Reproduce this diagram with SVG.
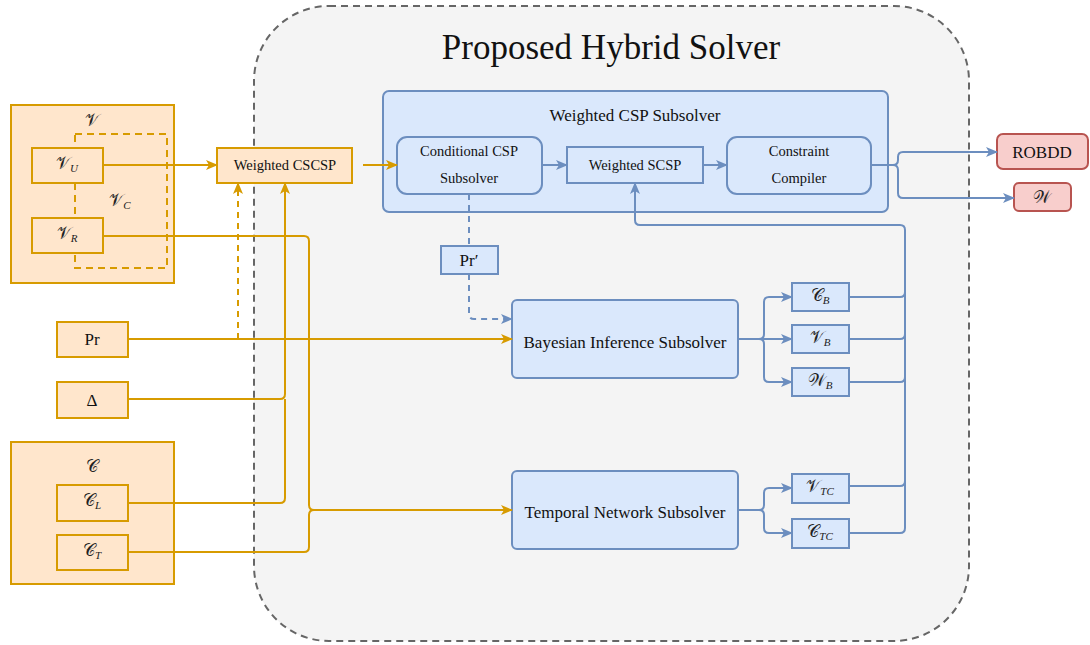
<svg xmlns="http://www.w3.org/2000/svg" width="1090" height="645" viewBox="0 0 1090 645">
  <defs>
    <style>
      .orange { fill: #ffe6cc; stroke: #d79b00; stroke-width: 2; }
      .blue { fill: #dae8fc; stroke: #6c8ebf; stroke-width: 2; }
      .red { fill: #f8cecc; stroke: #b85450; stroke-width: 2; }
      .frame { fill: #f4f4f4; stroke: #666666; stroke-width: 2; stroke-dasharray: 7 5; }
      .dashbox { fill: none; stroke: #d79b00; stroke-width: 2; stroke-dasharray: 7 5; }
      .lo { fill: none; stroke: #d79b00; stroke-width: 2; }
      .lb { fill: none; stroke: #6c8ebf; stroke-width: 2; }
      .dash { stroke-dasharray: 6 5; }
      .ao { marker-end: url(#arrowO); }
      .ab { marker-end: url(#arrowB); }
      text { font-family: "Liberation Serif", "DejaVu Serif", serif; fill: #111111; text-anchor: middle; dominant-baseline: central; }
      .t14 { font-size: 14.5px; }
      .t17 { font-size: 17px; }
      .math { font-family: "DejaVu Sans", "DejaVu Serif", "Noto Sans", serif; font-size: 17px; fill: #222222; }
      .sub { font-family: "Liberation Serif", serif; font-style: italic; font-size: 11px; }
    </style>
    <marker id="arrowO" viewBox="0 0 12 10" markerUnits="userSpaceOnUse" markerWidth="12" markerHeight="10" refX="11" refY="5" orient="auto">
      <path d="M0,0 L12,5 L0,10 L3,5 z" fill="#d79b00"/>
    </marker>
    <marker id="arrowB" viewBox="0 0 12 10" markerUnits="userSpaceOnUse" markerWidth="12" markerHeight="10" refX="11" refY="5" orient="auto">
      <path d="M0,0 L12,5 L0,10 L3,5 z" fill="#6c8ebf"/>
    </marker>
  </defs>

  <!-- solver frame -->
  <g id="hybrid-solver">
    <rect class="frame" x="254" y="6" width="715" height="635" rx="75"/>
    <text x="611" y="47" style="font-size:35px">Proposed Hybrid Solver</text>
  </g>

  <!-- variables group -->
  <g id="var-set">
    <rect class="orange" x="11" y="105" width="163" height="178"/>
    <rect class="dashbox" x="75" y="134" width="92" height="134"/>
    <text class="math" x="92" y="120">𝒱</text>
    <text class="math" x="120" y="200">𝒱<tspan class="sub" dy="5">C</tspan></text>
  </g>
  <g id="var-u">
    <rect class="orange" x="32" y="148" width="71" height="35"/>
    <text class="math" x="67" y="163">𝒱<tspan class="sub" dy="5">U</tspan></text>
  </g>
  <g id="var-r">
    <rect class="orange" x="32" y="218" width="71" height="35"/>
    <text class="math" x="67" y="233">𝒱<tspan class="sub" dy="5">R</tspan></text>
  </g>

  <g id="pr">
    <rect class="orange" x="57" y="322" width="71" height="35"/>
    <text class="t17" x="92" y="339">Pr</text>
  </g>
  <g id="delta">
    <rect class="orange" x="57" y="382" width="71" height="36"/>
    <text class="t17" x="92" y="400">Δ</text>
  </g>

  <!-- constraints group -->
  <g id="con-set">
    <rect class="orange" x="11" y="442" width="163" height="142"/>
    <text class="math" x="92" y="466">𝒞</text>
  </g>
  <g id="con-l">
    <rect class="orange" x="57" y="485" width="71" height="36"/>
    <text class="math" x="92" y="500">𝒞<tspan class="sub" dy="5">L</tspan></text>
  </g>
  <g id="con-t">
    <rect class="orange" x="57" y="535" width="71" height="35"/>
    <text class="math" x="92" y="550">𝒞<tspan class="sub" dy="5">T</tspan></text>
  </g>

  <g id="weighted-cscsp">
    <rect class="orange" x="217" y="148" width="135" height="35"/>
    <text class="t14" x="285" y="165">Weighted CSCSP</text>
  </g>

  <!-- weighted CSP subsolver -->
  <g id="wcsp-subsolver">
    <rect class="blue" x="383" y="91" width="505" height="121" rx="6"/>
    <text class="t17" x="635" y="115">Weighted CSP Subsolver</text>
  </g>
  <g id="conditional-csp">
    <rect class="blue" x="397" y="137" width="145" height="57" rx="10"/>
    <text class="t14" x="469" y="151">Conditional CSP</text>
    <text class="t14" x="469" y="178">Subsolver</text>
  </g>
  <g id="weighted-scsp">
    <rect class="blue" x="567" y="147" width="136" height="36"/>
    <text class="t14" x="635" y="165">Weighted SCSP</text>
  </g>
  <g id="constraint-compiler">
    <rect class="blue" x="727" y="137" width="144" height="57" rx="10"/>
    <text class="t14" x="799" y="151">Constraint</text>
    <text class="t14" x="799" y="178">Compiler</text>
  </g>

  <g id="robdd">
    <rect class="red" x="997" y="134" width="91" height="35" rx="6"/>
    <text class="t17" x="1042" y="152">ROBDD</text>
  </g>
  <g id="w-out">
    <rect class="red" x="1014" y="183" width="57" height="28" rx="5"/>
    <text class="math" x="1042" y="197">𝒲</text>
  </g>

  <g id="pr-prime">
    <rect class="blue" x="441" y="246" width="57" height="28"/>
    <text class="t17" x="469" y="260">Pr′</text>
  </g>

  <g id="bayesian">
    <rect class="blue" x="512" y="300" width="226" height="78" rx="5"/>
    <text class="t17" x="625" y="342">Bayesian Inference Subsolver</text>
  </g>
  <g id="c-b">
    <rect class="blue" x="792" y="283" width="57" height="28"/>
    <text class="math" x="820" y="295">𝒞<tspan class="sub" dy="5">B</tspan></text>
  </g>
  <g id="v-b">
    <rect class="blue" x="792" y="325" width="57" height="28"/>
    <text class="math" x="820" y="337">𝒱<tspan class="sub" dy="5">B</tspan></text>
  </g>
  <g id="w-b">
    <rect class="blue" x="792" y="368" width="57" height="28"/>
    <text class="math" x="820" y="380">𝒲<tspan class="sub" dy="5">B</tspan></text>
  </g>

  <g id="temporal">
    <rect class="blue" x="512" y="471" width="226" height="78" rx="5"/>
    <text class="t17" x="625" y="512">Temporal Network Subsolver</text>
  </g>
  <g id="v-tc">
    <rect class="blue" x="792" y="474" width="57" height="29"/>
    <text class="math" x="820" y="486">𝒱<tspan class="sub" dy="5">TC</tspan></text>
  </g>
  <g id="c-tc">
    <rect class="blue" x="792" y="519" width="57" height="29"/>
    <text class="math" x="820" y="531">𝒞<tspan class="sub" dy="5">TC</tspan></text>
  </g>

  <!-- connectors -->
  <g id="connectors">
    <!-- inputs -->
    <path class="lo ao" d="M103,165 H217"/>
    <path class="lo ao" d="M363,165 H397"/>
    <path class="lo ao" d="M103,236 H304 Q309,236 309,241 V505 Q309,510 314,510 H512"/>
    <path class="lo" d="M128,552 H304 Q309,552 309,547 V515 Q309,510 314,510"/>
    <path class="lo ao" d="M128,339 H512"/>
    <path class="lo dash ao" d="M238,339 V183"/>
    <path class="lo ao" d="M128,399 H280 Q285,399 285,394 V183"/>
    <path class="lo" d="M128,503 H280 Q285,503 285,498 V399"/>

    <!-- weighted CSP pipeline -->
    <path class="lb ab" d="M542,165 H567"/>
    <path class="lb ab" d="M703,165 H727"/>
    <path class="lb ab" d="M871,165 H893 Q898,165 898,160 V157 Q898,152 903,152 H997"/>
    <path class="lb ab" d="M893,165 Q898,165 898,170 V193 Q898,198 903,198 H1014"/>

    <!-- probability refinement -->
    <path class="lb dash" d="M469,194 V246"/>
    <path class="lb dash ab" d="M469,274 V314 Q469,319 474,319 H512"/>

    <!-- bayesian outputs -->
    <path class="lb ab" d="M738,339 H759 Q764,339 764,334 V302 Q764,297 769,297 H792"/>
    <path class="lb ab" d="M759,339 H792"/>
    <path class="lb ab" d="M759,339 Q764,339 764,344 V377 Q764,382 769,382 H792"/>

    <!-- temporal outputs -->
    <path class="lb ab" d="M738,510 H759 Q764,510 764,505 V493 Q764,488 769,488 H792"/>
    <path class="lb ab" d="M759,510 Q764,510 764,515 V528 Q764,533 769,533 H792"/>

    <!-- feedback into weighted SCSP -->
    <path class="lb ab" d="M849,533 H900 Q905,533 905,528 V230 Q905,225 900,225 H640 Q635,225 635,220 V183"/>
    <path class="lb" d="M849,486 H900 Q905,486 905,481"/>
    <path class="lb" d="M849,382 H900 Q905,382 905,377"/>
    <path class="lb" d="M849,339 H900 Q905,339 905,334"/>
    <path class="lb" d="M849,297 H900 Q905,297 905,292"/>
  </g>
</svg>
